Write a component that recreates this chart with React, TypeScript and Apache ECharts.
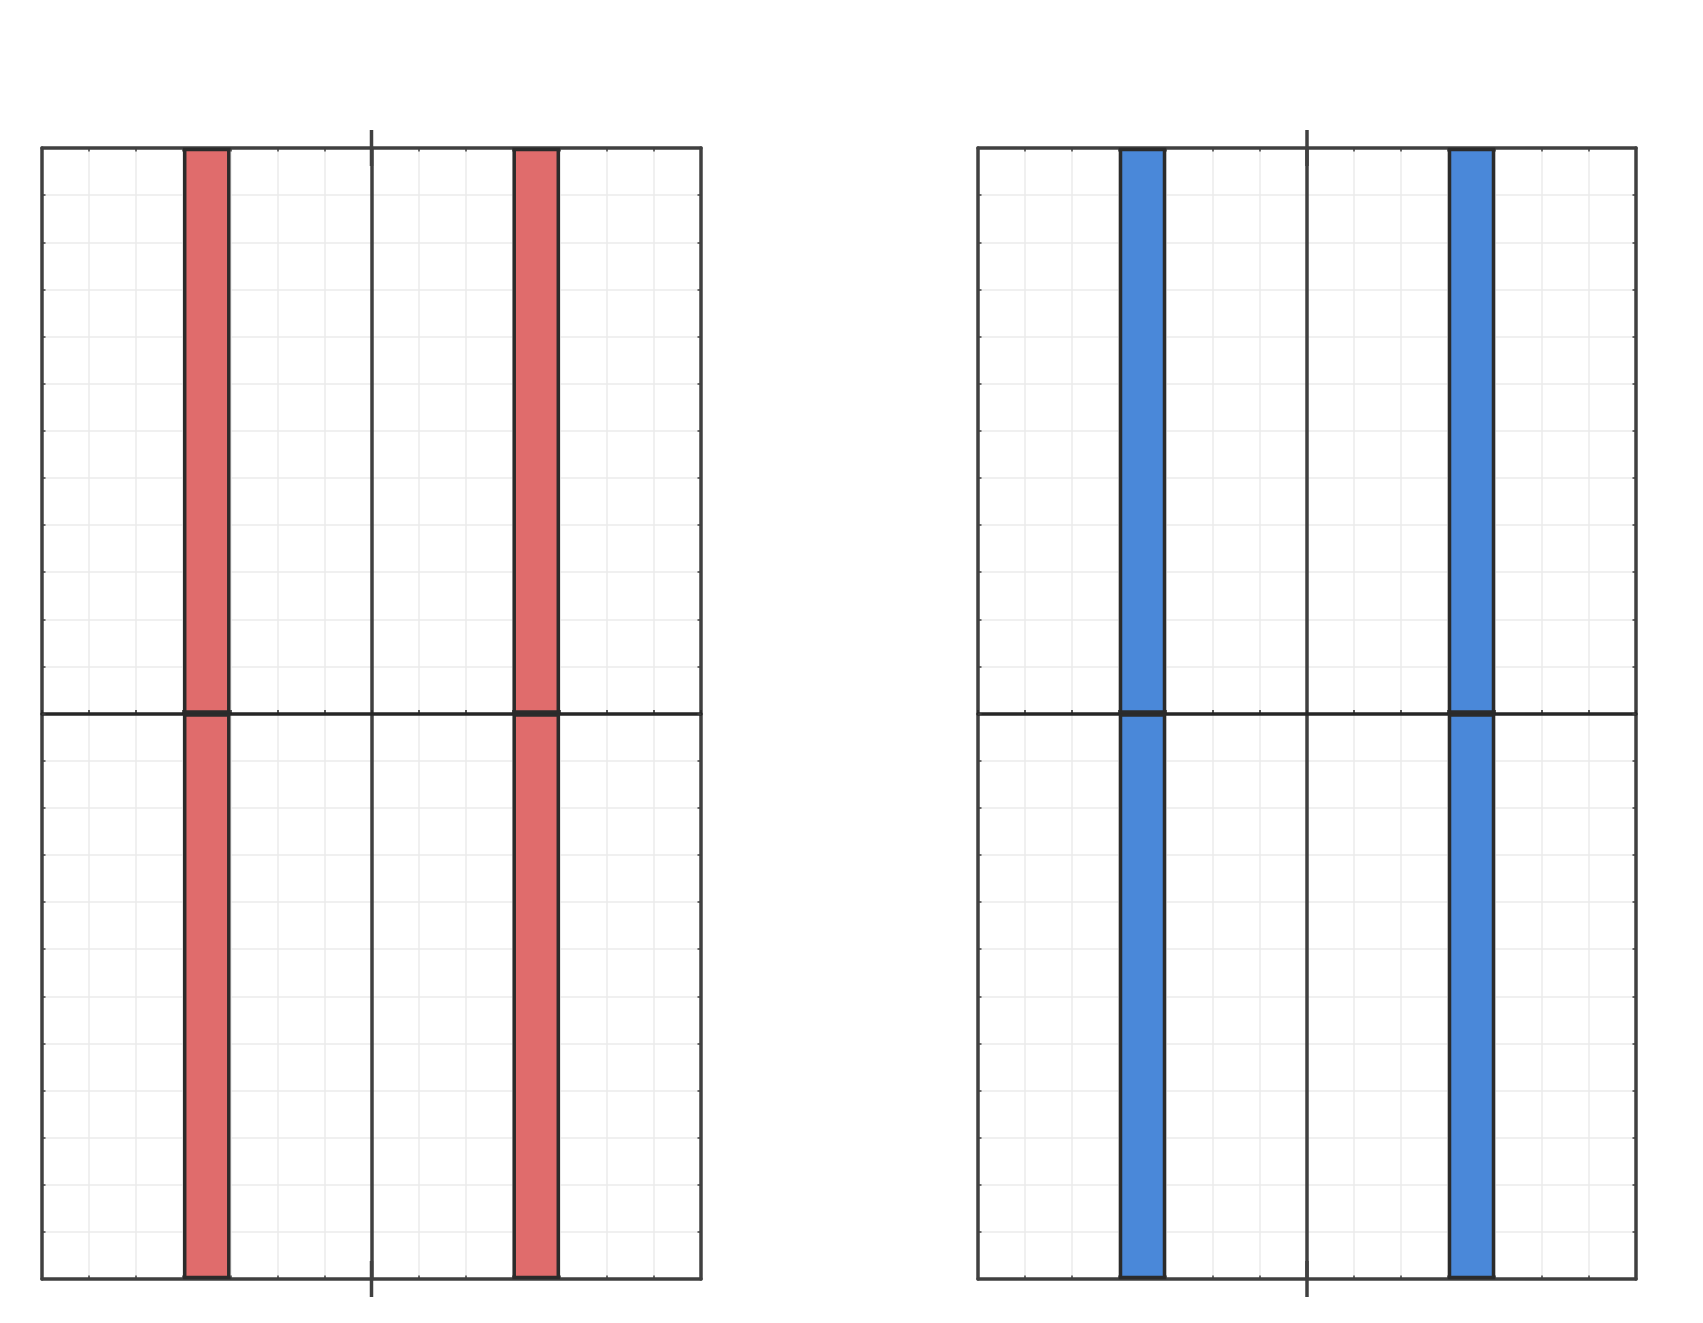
import React, { useEffect, useRef } from "react";
import * as echarts from "echarts";

const xMinMax = [-7, 7];
const yMinMax = [-12, 12];
// [xStart, xEnd, yStart, yEnd]
const redBars = [
  [-4, -3, 0, 12],
  [-4, -3, -12, 0],
  [3, 4, 0, 12],
  [3, 4, -12, 0],
];
const blueBars = [
  [-4, -3, 0, 12],
  [-4, -3, -12, 0],
  [3, 4, 0, 12],
  [3, 4, -12, 0],
];
const barColors = ["#e06c6c", "#4a88d9"];

const BOX = "#404040";
const ZERO = "#262626";
const GRIDLINE = "#ebebeb";
const LW = 3.5;

function xAxes(gridIndex: number) {
  const base = {
    type: "value" as const,
    gridIndex,
    min: xMinMax[0],
    max: xMinMax[1],
    interval: 1,
    axisLabel: { show: false },
  };
  return [
    {
      ...base,
      position: "bottom",
      axisLine: { show: true, onZero: false, lineStyle: { color: BOX, width: LW } },
      axisTick: { show: true, inside: true, length: 3.5, lineStyle: { color: BOX, width: 1.5 } },
      splitLine: { show: true, showMinLine: false, showMaxLine: false, lineStyle: { color: GRIDLINE, width: 1.5 } },
    },
    {
      ...base,
      position: "top",
      axisLine: { show: true, onZero: false, lineStyle: { color: BOX, width: LW } },
      axisTick: { show: true, inside: true, length: 3.5, lineStyle: { color: BOX, width: 1.5 } },
      splitLine: { show: false },
    },
    {
      ...base,
      position: "bottom",
      axisLine: { show: true, onZero: true, lineStyle: { color: ZERO, width: LW } },
      axisTick: { show: true, inside: true, length: 3.5, lineStyle: { color: ZERO, width: 1.5 } },
      splitLine: { show: false },
    },
  ];
}

function yAxes(gridIndex: number) {
  const base = {
    type: "value" as const,
    gridIndex,
    min: yMinMax[0],
    max: yMinMax[1],
    interval: 1,
    axisLabel: { show: false },
  };
  return [
    {
      ...base,
      position: "left",
      axisLine: { show: true, onZero: false, lineStyle: { color: BOX, width: LW } },
      axisTick: { show: true, inside: true, length: 3.5, lineStyle: { color: BOX, width: 1.5 } },
      splitLine: { show: true, showMinLine: false, showMaxLine: false, lineStyle: { color: GRIDLINE, width: 1.5 } },
    },
    {
      ...base,
      position: "right",
      axisLine: { show: true, onZero: false, lineStyle: { color: BOX, width: LW } },
      axisTick: { show: true, inside: true, length: 3.5, lineStyle: { color: BOX, width: 1.5 } },
      splitLine: { show: false },
    },
    {
      ...base,
      position: "left",
      axisLine: {
        show: true,
        onZero: true,
        symbol: ["rect", "rect"],
        symbolSize: [LW, 36],
        lineStyle: { color: BOX, width: LW },
      },
      axisTick: { show: false },
      splitLine: { show: false },
    },
  ];
}

function barSeries(data: number[][], color: string, axisBase: number) {
  return {
    type: "custom",
    xAxisIndex: axisBase,
    yAxisIndex: axisBase,
    encode: { x: [0, 1], y: [2, 3] },
    data,
    z: 3,
    renderItem: (params: any, api: any) => {
      const x0 = api.value(0);
      const x1 = api.value(1);
      const y0 = api.value(2);
      const y1 = api.value(3);
      const p0 = api.coord([x0, y1]);
      const p1 = api.coord([x1, y0]);
      const inset = 1.5;
      return {
        type: "rect",
        shape: {
          x: p0[0] + inset,
          y: p0[1] + inset,
          width: p1[0] - p0[0] - 2 * inset,
          height: p1[1] - p0[1] - 2 * inset,
        },
        style: { fill: color, stroke: "#2b2b2b", lineWidth: LW },
      };
    },
  };
}

export default function App() {
  const ref = useRef<HTMLDivElement>(null);
  useEffect(() => {
    if (!ref.current) return;
    const chart = echarts.init(ref.current, null, { renderer: "svg" });
    chart.setOption({
      animation: false,
      backgroundColor: "#ffffff",
      grid: [
        { left: 42, top: 148, width: 659, height: 1131, containLabel: false },
        { left: 978, top: 148, width: 658, height: 1131, containLabel: false },
      ],
      xAxis: [...xAxes(0), ...xAxes(1)],
      yAxis: [...yAxes(0), ...yAxes(1)],
      series: [barSeries(redBars, barColors[0], 0), barSeries(blueBars, barColors[1], 3)],
    });
    return () => chart.dispose();
  }, []);
  return (
    <div
      ref={ref}
      style={{ position: "absolute", left: 0, top: 0, width: 1703, height: 1323 }}
    />
  );
}
